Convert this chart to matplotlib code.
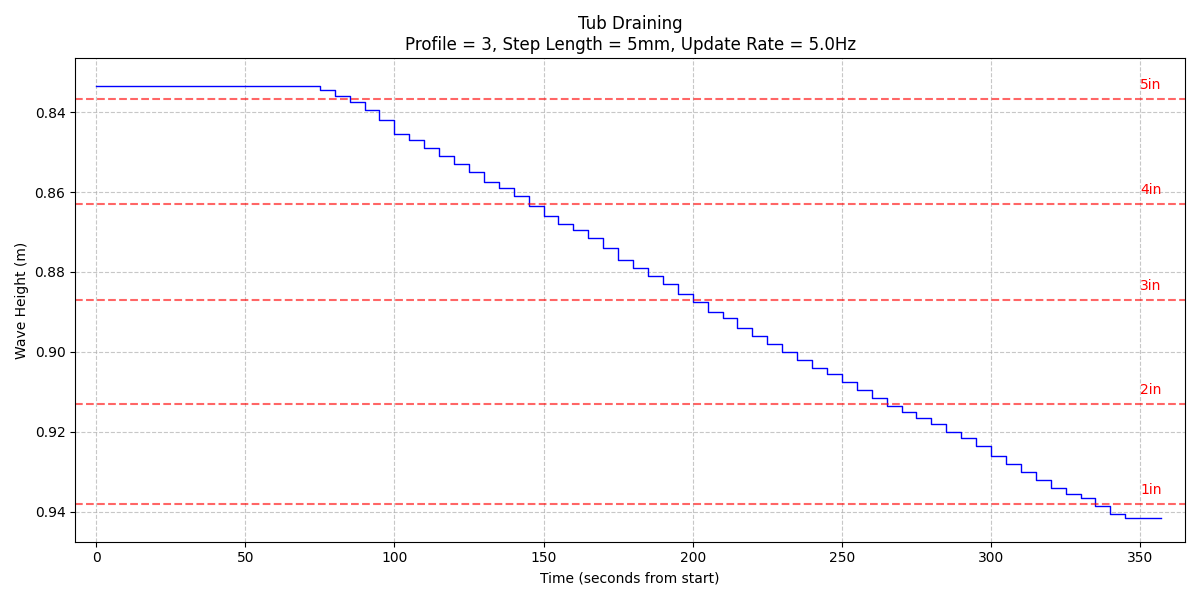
import matplotlib.pyplot as plt

# Wave height readings (every 5 s)
times = [0, 5, 10, 15, 20, 25, 30, 35, 40, 45, 50, 55, 60, 65, 70, 75, 80, 85, 90, 95,
         100, 105, 110, 115, 120, 125, 130, 135, 140, 145, 150, 155, 160, 165, 170,
         175, 180, 185, 190, 195, 200, 205, 210, 215, 220, 225, 230, 235, 240, 245,
         250, 255, 260, 265, 270, 275, 280, 285, 290, 295, 300, 305, 310, 315, 320,
         325, 330, 335, 340, 345, 350, 357]
heights = [0.8335, 0.8335, 0.8335, 0.8335, 0.8335, 0.8335, 0.8335, 0.8335, 0.8335,
           0.8335, 0.8335, 0.8335, 0.8335, 0.8335, 0.8335, 0.8345, 0.8360, 0.8375,
           0.8395, 0.8420, 0.8455, 0.8470, 0.8490, 0.8510, 0.8530, 0.8550, 0.8575,
           0.8590, 0.8610, 0.8635, 0.8660, 0.8680, 0.8695, 0.8715, 0.8740, 0.8770,
           0.8790, 0.8810, 0.8830, 0.8855, 0.8875, 0.8900, 0.8915, 0.8940, 0.8960,
           0.8980, 0.9000, 0.9020, 0.9040, 0.9055, 0.9075, 0.9095, 0.9115, 0.9135,
           0.9150, 0.9165, 0.9180, 0.9200, 0.9215, 0.9235, 0.9260, 0.9280, 0.9300,
           0.9320, 0.9340, 0.9355, 0.9365, 0.9385, 0.9405, 0.9415, 0.9415, 0.9415]

# Reference depth marks
mark_labels = ["5in", "4in", "3in", "2in", "1in"]
mark_values = [0.8367, 0.8630, 0.8870, 0.9130, 0.9380]

fig, ax = plt.subplots(figsize=(12, 6), dpi=100)

ax.step(times, heights, where="post", color="blue", linewidth=1)

for lab, val in zip(mark_labels, mark_values):
    ax.axhline(val, color="red", linestyle="--", alpha=0.6, linewidth=1.5)
    ax.text(350, val - 0.0025, lab, color="red", fontsize=10)

ax.set_xlim(-7, 365)
ax.set_ylim(0.8265, 0.9475)
ax.invert_yaxis()
ax.set_xlabel("Time (seconds from start)")
ax.set_ylabel("Wave Height (m)")
ax.set_title("Tub Draining\nProfile = 3, Step Length = 5mm, Update Rate = 5.0Hz")
ax.grid(True, linestyle="--", alpha=0.7)

plt.tight_layout()
plt.savefig("out.png")
